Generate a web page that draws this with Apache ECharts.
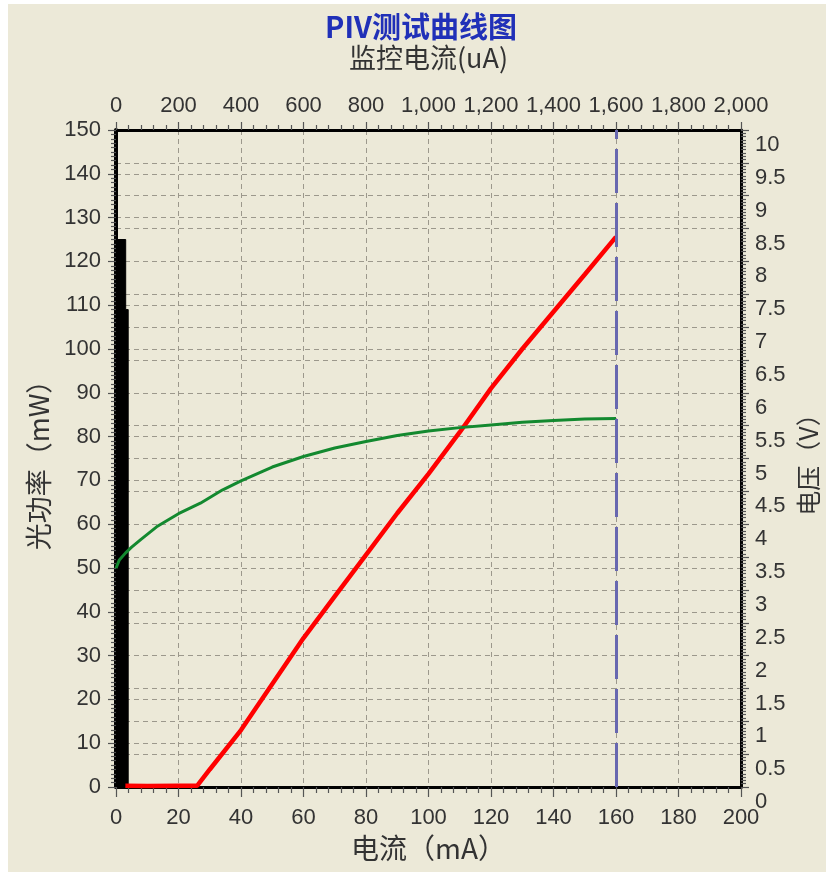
<!DOCTYPE html>
<html><head><meta charset="utf-8">
<script src="https://cdn.jsdelivr.net/npm/echarts@6/dist/echarts.min.js"></script>
<style>
html,body{margin:0;padding:0;background:#ffffff;overflow:hidden}
#c{position:absolute;left:0;top:0;width:826px;height:872px}
</style>
</head><body><div id="c"></div>
<script>
// Optical power (mW) vs drive current (mA)
const powerX = [3, 10, 20, 26, 30, 40, 50, 60, 70, 80, 90, 100, 110, 120, 130, 140, 150, 160];
const powerY = [0.3, 0.2, 0.3, 0.3, 4, 13, 23.5, 34, 43.5, 53, 62.5, 71.5, 81, 91, 100, 108.5, 117, 125.6];
// Voltage (V) vs drive current (mA)
const voltX = [0, 1, 3, 5, 8, 13, 20, 27, 34, 40, 50, 60, 70, 80, 90, 100, 110, 120, 130, 140, 150, 160];
const voltY = [3.33, 3.45, 3.56, 3.65, 3.77, 3.96, 4.16, 4.32, 4.52, 4.66, 4.87, 5.03, 5.16, 5.26, 5.35, 5.42, 5.47, 5.51, 5.55, 5.58, 5.60, 5.61];
// Monitor trace (black block near zero current)
const monX = [0, 3.1, 3.1, 3.9, 3.9];
const monY = [125, 125, 109, 109, 0];
// Marker line position (mA)
const markerX = 160;

const FONT = "'Liberation Sans','Noto Sans CJK SC',sans-serif";
const CJK = "'Noto Sans CJK SC','Liberation Sans',sans-serif";
const zip = (a, b) => a.map((v, i) => [v, b[i]]);

const split = {show: true, lineStyle: {color: '#9c988c', width: 1, type: [5, 4]}};
const tickStyle = {color: '#555', width: 1.2};

const chart = echarts.init(document.getElementById('c'));
chart.setOption({
  animation: false,
  backgroundColor: '#ece9d8',
  textStyle: {fontFamily: FONT},
  graphic: [
    {type: 'rect', left: 0, top: 0, shape: {width: 8, height: 872}, style: {fill: '#ffffff'}, silent: true},
    {type: 'rect', left: 0, top: 0, shape: {width: 826, height: 4}, style: {fill: '#ffffff'}, silent: true}
  ],
  title: {
    text: 'PIV测试曲线图', left: 421, top: 12, textAlign: 'center', padding: 0,
    textStyle: {fontFamily: CJK, fontSize: 29, fontWeight: 'bold', color: '#2030b8'}
  },
  grid: {left: 116, top: 130, right: 85, bottom: 85, containLabel: false, outerBoundsMode: 'none'},
  xAxis: [
    {
      type: 'value', position: 'bottom', min: 0, max: 200, interval: 20,
      name: '电流（mA）', nameLocation: 'middle', nameGap: 47, nameMoveOverlap: false,
      nameTextStyle: {fontFamily: CJK, fontSize: 28, color: '#333'},
      axisLine: {show: true, onZero: false, lineStyle: {color: '#000', width: 3}},
      axisTick: {show: true, inside: false, length: 10, lineStyle: tickStyle},
      minorTick: {show: true, splitNumber: 5, length: 6, lineStyle: tickStyle},
      axisLabel: {fontSize: 22, color: '#333', margin: 20},
      splitLine: split
    },
    {
      type: 'value', position: 'top', min: 0, max: 2000, interval: 200,
      name: '监控电流(uA)', nameLocation: 'middle', nameGap: 59, nameMoveOverlap: false,
      nameTextStyle: {fontFamily: CJK, fontSize: 27, color: '#333'},
      axisLine: {show: true, onZero: false, lineStyle: {color: '#000', width: 3}},
      axisTick: {show: true, inside: false, length: 8, lineStyle: tickStyle},
      minorTick: {show: true, splitNumber: 5, length: 5, lineStyle: tickStyle},
      axisLabel: {fontSize: 22, color: '#333', margin: 13,
        formatter: v => v.toLocaleString('en-US')},
      splitLine: {show: false}
    }
  ],
  yAxis: [
    {
      type: 'value', position: 'left', min: 0, max: 150, interval: 10,
      name: '光功率（mW）', nameLocation: 'middle', nameGap: 64, nameRotate: 90, nameMoveOverlap: false,
      nameTextStyle: {fontFamily: CJK, fontSize: 27, color: '#333'},
      axisLine: {show: true, onZero: false, lineStyle: {color: '#000', width: 4}},
      axisTick: {show: true, inside: false, length: 8, lineStyle: tickStyle},
      minorTick: {show: true, splitNumber: 10, length: 5, lineStyle: tickStyle},
      axisLabel: {fontSize: 22, color: '#333', margin: 15},
      splitLine: split
    },
    {
      type: 'value', position: 'right', min: 0, max: 10, interval: 0.5,
      name: '电压（V）', nameLocation: 'middle', nameGap: 55, nameRotate: 90, nameMoveOverlap: false,
      nameTextStyle: {fontFamily: CJK, fontSize: 25, color: '#333'},
      axisLine: {show: true, onZero: false, lineStyle: {color: '#000', width: 3}},
      axisTick: {show: true, inside: false, length: 8, lineStyle: tickStyle},
      minorTick: {show: true, splitNumber: 10, length: 5, lineStyle: tickStyle},
      axisLabel: {fontSize: 22, color: '#333', margin: 14, verticalAlign: 'top', padding: [4, 0, 0, 0],
        formatter: v => String(v)},
      splitLine: split
    }
  ],
  series: [
    {
      name: 'monitor', type: 'line', xAxisIndex: 0, yAxisIndex: 0,
      data: zip(monX, monY), symbol: 'none', silent: true,
      lineStyle: {color: '#000', width: 1}, areaStyle: {color: '#000', opacity: 1}
    },
    {
      name: 'power', type: 'line', xAxisIndex: 0, yAxisIndex: 0,
      data: zip(powerX, powerY), symbol: 'none',
      lineStyle: {color: '#ff0000', width: 4.5}
    },
    {
      name: 'voltage', type: 'line', xAxisIndex: 0, yAxisIndex: 1,
      data: zip(voltX, voltY), symbol: 'none',
      lineStyle: {color: '#13892f', width: 3}
    },
    {
      name: 'marker', type: 'line', xAxisIndex: 0, yAxisIndex: 0, data: [],
      markLine: {
        symbol: 'none', silent: true, label: {show: false},
        lineStyle: {color: '#6868b0', width: 3, type: [44, 10]},
        data: [{xAxis: markerX}]
      }
    }
  ]
});
</script></body></html>
